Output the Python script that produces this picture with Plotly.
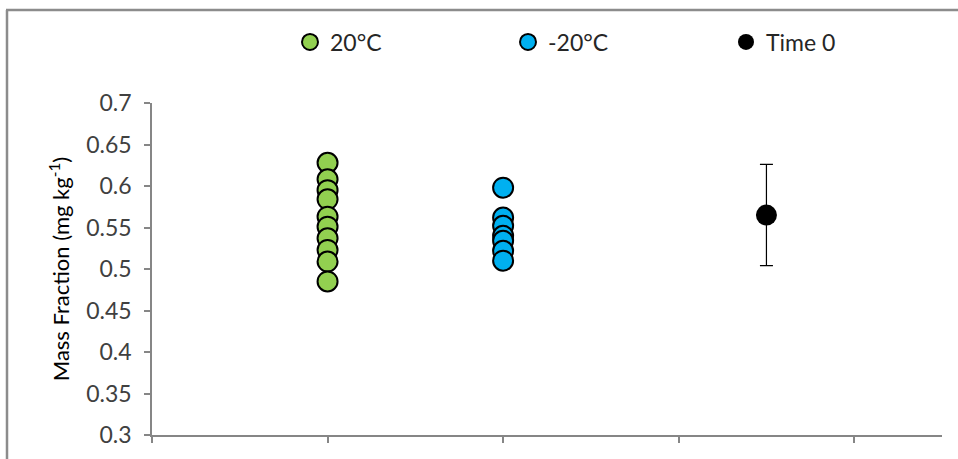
import plotly.graph_objects as go

# Data
green_x = [1] * 10
green_vals = [0.628, 0.608, 0.595, 0.584, 0.563, 0.551, 0.537, 0.523, 0.509, 0.485]
blue_x = [2] * 7
blue_vals = [0.598, 0.562, 0.552, 0.540, 0.534, 0.522, 0.510]
t0_x = [3.5]
t0_vals = [0.565]
t0_err = [0.061]
y_ticks = [0.3, 0.35, 0.4, 0.45, 0.5, 0.55, 0.6, 0.65, 0.7]
y_tick_text = ["0.3", "0.35", "0.4", "0.45", "0.5", "0.55", "0.6", "0.65", "0.7"]

W, H = 958, 459
L, R, T, B = 152, 16, 103, 24
pw, ph = W - L - R, H - T - B

def px(x):
    return (x - L) / pw

def py(y):
    return (H - B - y) / ph

fig = go.Figure()
fig.add_trace(go.Scatter(
    x=green_x, y=green_vals, mode="markers", name="20°C",
    marker=dict(size=20, color="#92D050", line=dict(color="#000000", width=2)),
))
fig.add_trace(go.Scatter(
    x=blue_x, y=blue_vals, mode="markers", name="-20°C",
    marker=dict(size=20, color="#00B0F0", line=dict(color="#000000", width=2)),
))
fig.add_trace(go.Scatter(
    x=t0_x, y=t0_vals, mode="markers", name="Time 0",
    marker=dict(size=21, color="#000000"),
    error_y=dict(type="data", array=t0_err, visible=True, color="#000000",
                 thickness=1.2, width=6.5),
))

fig.update_layout(
    width=W, height=H,
    margin=dict(l=L, r=R, t=T, b=B, autoexpand=False),
    paper_bgcolor="white", plot_bgcolor="white",
    font=dict(family="Lato", size=22, color="#404040"),
    showlegend=True,
    legend=dict(
        orientation="h", x=px(290), y=py(42), yanchor="middle", xanchor="left",
        entrywidth=173, entrywidthmode="pixels",
        font=dict(size=23, color="#262626"), bgcolor="rgba(0,0,0,0)",
    ),
    xaxis=dict(
        range=[0, 4.5], tickvals=[0, 1, 2, 3, 4], showticklabels=False,
        ticks="outside", ticklen=6, tickcolor="#868686", tickwidth=1.5,
        showline=True, linecolor="#868686", linewidth=1.5,
        showgrid=False, zeroline=False,
    ),
    yaxis=dict(
        range=[0.3, 0.7], tickvals=y_ticks, ticktext=y_tick_text,
        ticks="outside", ticklen=6, tickcolor="#868686", tickwidth=1.5,
        ticklabelstandoff=8,
        showline=True, linecolor="#868686", linewidth=1.5,
        showgrid=False, zeroline=False,
        tickfont=dict(size=23, color="#404040"),
        title=dict(text="Mass Fraction (mg kg<sup>-1</sup>)", standoff=10,
                   font=dict(size=22, color="#000000")),
    ),
    shapes=[
        dict(type="line", xref="paper", yref="paper", x0=px(7), x1=px(7),
             y0=py(10), y1=py(470), line=dict(color="#8c8c8c", width=2.5)),
        dict(type="line", xref="paper", yref="paper", x0=px(6), x1=px(970),
             y0=py(10), y1=py(10), line=dict(color="#8c8c8c", width=2.5)),
    ],
)

fig.write_html("out.html")
